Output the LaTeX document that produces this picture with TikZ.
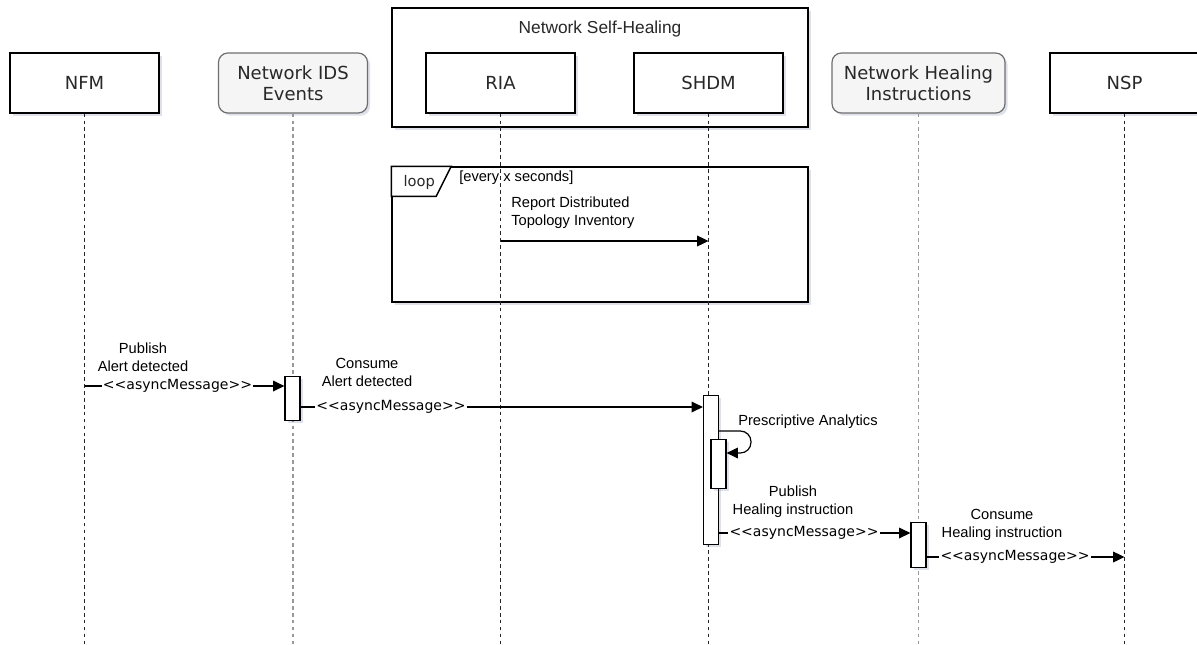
\documentclass[tikz,border=0pt]{standalone}
\usepackage{fontspec}
\newfontfamily\verd{DejaVu Sans}
\newfontfamily\arial{Liberation Sans}
\usetikzlibrary{arrows.meta,shadows,calc}
\definecolor{shadowc}{RGB}{90,100,150}
\definecolor{txt}{RGB}{40,40,40}
\definecolor{topicfill}{RGB}{245,245,245}
\definecolor{topicline}{RGB}{110,110,110}
\begin{document}
\begin{tikzpicture}[x=0.75pt,y=-0.75pt,
  shade/.style={drop shadow={shadow xshift=2pt,shadow yshift=-2pt,opacity=0.2,fill=shadowc}},
  party/.style={draw=black,line width=0.9pt,fill=white,minimum width=111.75pt,minimum height=45pt,
    font=\verd\fontsize{13.5}{15.75}\selectfont,text=txt,align=center,inner sep=0pt,shade},
  topic/.style={party,draw=topicline,fill=topicfill,rounded corners=7pt},
  life/.style={line width=1.1pt,dash pattern=on 2.8pt off 2.4pt,draw=black!85},
  topiclife/.style={life,draw=black!40},
  act/.style={draw=black,line width=0.9pt,fill=white,minimum width=11.25pt,inner sep=0pt,anchor=north,shade},
  msg/.style={line width=0.9pt,-{Triangle[length=8.5pt,width=8pt]}},
  stereo/.style={fill=white,inner sep=1pt,font=\verd\fontsize{10.5}{12}\selectfont},
  lbl/.style={font=\arial\fontsize{11}{13.5}\selectfont,align=center,inner sep=0pt},
]
\useasboundingbox (0,0) rectangle (1197,644);

% participants
\node[party] (nfm) at (84.5,83) {NFM};
\node[topic] (ids) at (293,83) {Network IDS\\Events};
\node[draw,line width=1.1pt,fill=white,minimum width=312pt,minimum height=89.25pt,inner sep=0pt,shade] (grp) at (600,67.5) {};
\node[font=\arial\fontsize{13}{15}\selectfont,text=txt] (grpname) at (600,29) {Network Self-Healing};
\node[party] (ria) at (500.5,83) {RIA};
\node[party] (shdm) at (708.5,83) {SHDM};
\node[topic,minimum width=129.75pt] (heal) at (918.5,83) {Network Healing\\Instructions};
\node[party] (nsp) at (1124.5,83) {NSP};

% loop frame
\node[draw,line width=1.1pt,fill=white,minimum width=312pt,minimum height=101.25pt,inner sep=0pt,shade] (loop) at (600,234.5) {};
\draw[line width=1.1pt,fill=white] (loop.north west) -- ++(60,0) -- ++(-15,30) -- ++(-45,0) -- cycle;
\node[font=\verd\fontsize{11}{13}\selectfont,text=txt] (looptag) at ($(loop.north west)+(28,16)$) {loop};

% lifelines
\coordinate (bottom) at (0,650);
\draw[life] (nfm.south) -- (nfm.south |- bottom);
\draw[topiclife] (ids.south) -- (ids.south |- bottom);
\draw[life] (ria.south) -- (ria.south |- bottom);
\draw[life] (shdm.south) -- (shdm.south |- bottom);
\draw[topiclife] (heal.south) -- (heal.south |- bottom);
\draw[life] (nsp.south) -- (nsp.south |- bottom);

\node[lbl,anchor=west] (guard) at (459,178) {[every x seconds]};

% loop message
\coordinate (y0) at (0,241);
\draw[msg] (ria |- y0) -- (shdm |- y0);
\node[lbl,anchor=west,align=left] (m0lbl) at (511,212.5) {Report Distributed\\Topology Inventory};

% activations
\node[act,minimum height=33pt] (a1) at (292.5,376) {};
\node[act,minimum height=111.75pt] (a2) at (711,395) {};
\node[act,minimum height=36.75pt] (a3) at (718.5,439) {};
\node[act,minimum height=33.75pt] (a4) at (918.5,522) {};

% messages
\coordinate (y1) at (0,386);
\coordinate (y2) at (0,407);
\coordinate (y3) at (0,431);
\coordinate (y4) at (0,453);
\coordinate (y5) at (0,533);
\coordinate (y6) at (0,557);

\draw[msg] (nfm |- y1) -- (a1.west |- y1);
\node[stereo] (s1) at (177.5,386) {<<asyncMessage>>};
\node[lbl] (l1) at (143,357) {Publish\\Alert detected};

\draw[msg] (a1.east |- y2) -- (a2.west |- y2);
\node[stereo] (s2) at (391,407) {<<asyncMessage>>};
\node[lbl] (l2) at (367,372) {Consume\\Alert detected};

\draw[msg,rounded corners=8pt] (a2.east |- y3) -- (751,431) -- (751,453) -- (a3.east |- y4);
\node[lbl,anchor=west] (l3) at (738,422) {Prescriptive Analytics};

\draw[msg] (a2.east |- y5) -- (a4.west |- y5);
\node[stereo] (s4) at (804,533) {<<asyncMessage>>};
\node[lbl] (l4) at (793,502) {Publish\\Healing instruction};

\draw[msg] (a4.east |- y6) -- (nsp |- y6);
\node[stereo] (s5) at (1015,557) {<<asyncMessage>>};
\node[lbl] (l5) at (1002,524.5) {Consume\\Healing instruction};
\end{tikzpicture}
\end{document}
